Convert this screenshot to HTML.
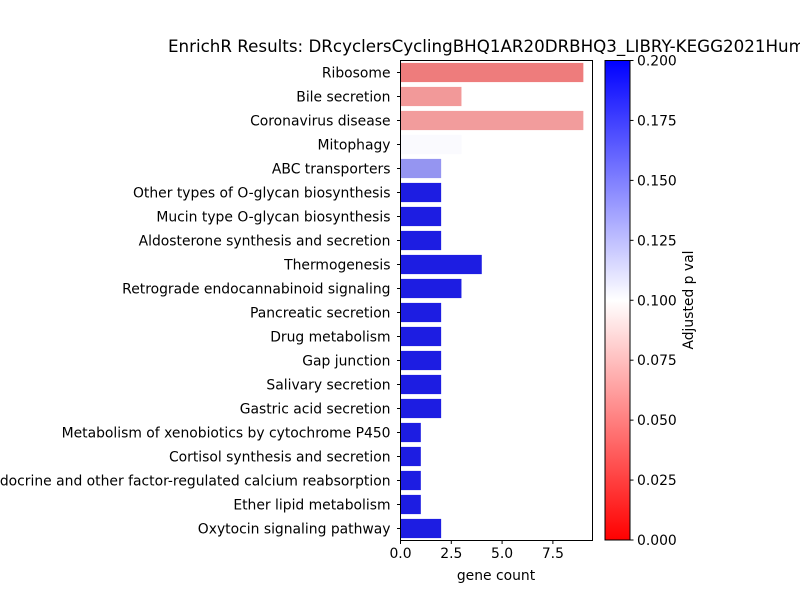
<!DOCTYPE html>
<html><head><meta charset="utf-8"><style>
body{margin:0;background:#fff;}
svg{display:block;font-family:"DejaVu Sans","Liberation Sans",sans-serif;}
</style></head><body>
<svg id="chart" width="800" height="600" viewBox="0 0 800 600">
<rect width="800" height="600" fill="#fff"/>
<text x="168" y="52" font-size="16.7" fill="#000">EnrichR Results: DRcyclersCyclingBHQ1AR20DRBHQ3_LIBRY-KEGG2021Human</text>
<defs><linearGradient id="cg" x1="0" y1="1" x2="0" y2="0">
<stop offset="0" stop-color="#ff0000"/><stop offset="0.5" stop-color="#ffffff"/><stop offset="1" stop-color="#0000ff"/></linearGradient></defs>
<g id="bars"></g>
<g id="yaxis"></g>
<g id="xaxis"></g>
<rect x="400.5" y="60.5" width="192" height="480" fill="none" stroke="#000" stroke-width="1"/>
<text x="496" y="580" font-size="13.9" text-anchor="middle">gene count</text>
<rect x="605" y="60.5" width="25" height="479.5" fill="url(#cg)" stroke="#000" stroke-width="1"/>
<g id="cbaxis"></g>
<text transform="translate(693,300) rotate(-90)" font-size="13.9" text-anchor="middle">Adjusted p val</text>
</svg>
<script>
const categories=["Ribosome","Bile secretion","Coronavirus disease","Mitophagy","ABC transporters","Other types of O-glycan biosynthesis","Mucin type O-glycan biosynthesis","Aldosterone synthesis and secretion","Thermogenesis","Retrograde endocannabinoid signaling","Pancreatic secretion","Drug metabolism","Gap junction","Salivary secretion","Gastric acid secretion","Metabolism of xenobiotics by cytochrome P450","Cortisol synthesis and secretion","Endocrine and other factor-regulated calcium reabsorption","Ether lipid metabolism","Oxytocin signaling pathway"];
const geneCounts=[9,3,9,3,2,2,2,2,4,3,2,2,2,2,2,1,1,1,1,2];
const pvals=[0.042,0.055,0.056,0.102,0.147,0.2,0.2,0.2,0.2,0.2,0.2,0.2,0.2,0.2,0.2,0.2,0.2,0.2,0.2,0.2];
const xTicks=[0,2.5,5,7.5];
const cbTicks=[0,0.025,0.05,0.075,0.1,0.125,0.15,0.175,0.2];

const NS="http://www.w3.org/2000/svg";
const X0=400.5,XW=192,XMAX=9.45,Y0=60.5,YH=480,N=categories.length;
const xs=v=>X0+v/XMAX*XW;
const yc=i=>Y0+(i+0.5)*YH/N;
const cbY=p=>540-p/0.2*479.5;
function mk(t,a,p){const e=document.createElementNS(NS,t);for(const k in a)e.setAttribute(k,a[k]);p.appendChild(e);return e;}
function baseColor(p){const t=Math.min(1,p/0.2);let r,g,b;if(t<0.5){const f=t/0.5;r=1;g=f;b=f;}else{const f=(t-0.5)/0.5;r=1-f;g=1-f;b=1;}return [r,g,b];}
function desat(c,s){const mx=Math.max(...c),mn=Math.min(...c);const l=(mx+mn)/2;if(mx===mn)return c;const d=mx-mn;let sat=l>0.5?d/(2-mx-mn):d/(mx+mn);let h;
if(mx===c[0])h=((c[1]-c[2])/d+6)%6;else if(mx===c[1])h=(c[2]-c[0])/d+2;else h=(c[0]-c[1])/d+4;h/=6;sat*=s;
const q=l<0.5?l*(1+sat):l+sat-l*sat,pp=2*l-q;const hr=t=>{t=(t+1)%1;if(t<1/6)return pp+(q-pp)*6*t;if(t<1/2)return q;if(t<2/3)return pp+(q-pp)*(2/3-t)*6;return pp;};
return [hr(h+1/3),hr(h),hr(h-1/3)];}
function col(p){const c=desat(baseColor(p),0.77);return `rgb(${c.map(v=>Math.round(v*255)).join(',')})`;}
const bars=document.getElementById('bars'),ya=document.getElementById('yaxis'),xa=document.getElementById('xaxis'),cb=document.getElementById('cbaxis');
categories.forEach((c,i)=>{
 const h=0.8*YH/N;
 const r=mk('rect',{x:X0,y:yc(i)-h/2,width:xs(geneCounts[i])-X0,height:h,fill:col(pvals[i])},bars);
 
 
 const tk=mk('line',{x1:X0-3.5,x2:X0,y1:yc(i),y2:yc(i),stroke:'#000'},ya);
 
 
 const tx=mk('text',{x:X0-10,y:yc(i)+5,'font-size':13.9,'text-anchor':'end'},ya);tx.textContent=c;
 
 
});
xTicks.forEach(v=>{
 const tk=mk('line',{x1:xs(v),x2:xs(v),y1:540.5,y2:544,stroke:'#000'},xa);
 
 
 const tx=mk('text',{x:xs(v),y:558,'font-size':13.9,'text-anchor':'middle'},xa);tx.textContent=v.toFixed(1);
 
 
});
cbTicks.forEach(v=>{
 const tk=mk('line',{x1:630,x2:633.5,y1:cbY(v),y2:cbY(v),stroke:'#000'},cb);
 
 
 const tx=mk('text',{x:637,y:cbY(v)+5,'font-size':13.9},cb);tx.textContent=v.toFixed(3);
 
 
});
</script>
</body></html>
